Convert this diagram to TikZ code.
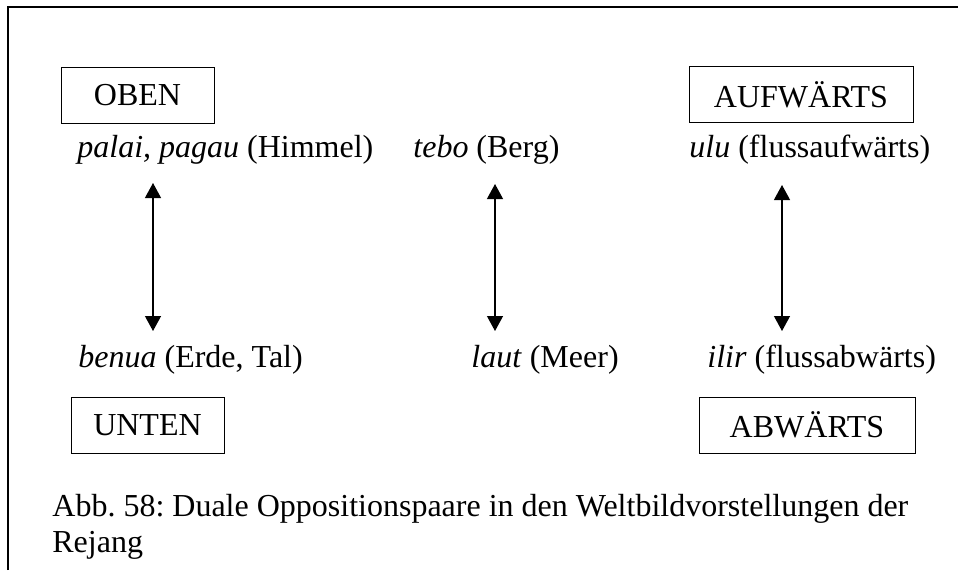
\documentclass[tikz,border=0pt]{standalone}
\usepackage{fontspec}
\setmainfont{Liberation Serif}
\usetikzlibrary{arrows.meta}

\tikzset{
  labelbox/.style={draw, line width=0.5pt, inner sep=0pt, minimum height=28pt},
  term/.style={anchor=base west, inner sep=0pt},
}

\begin{document}
\frenchspacing
\begin{tikzpicture}[x=0.5pt, y=-0.5pt, font=\fontsize{16}{18}\selectfont]
\useasboundingbox (0,0) rectangle (958,570);

% frame (top and left only)
\draw [line width=0.6pt] (8,570) -- (8,7) -- (958,7);

% direction boxes
\node [labelbox, minimum width=76.5pt] (oben) at (137.5,95.5) {OBEN};
\node [labelbox, minimum width=112pt] (aufw) at (801,94.5) {AUFWÄRTS};
\node [labelbox, minimum width=76.5pt] (unten) at (147.5,425) {UNTEN};
\node [labelbox, minimum width=108pt] (abw) at (807,425) {ABWÄRTS};

% upper terms
\node [term] (himmel) at (77,157) {\textit{palai, pagau} (Himmel)};
\node [term] (berg) at (413,157) {\textit{tebo} (Berg)};
\node [term] (ulu) at (689,157) {\textit{ulu} (flussaufwärts)};

% lower terms
\node [term] (erde) at (78,367) {\textit{benua} (Erde, Tal)};
\node [term] (meer) at (471,367) {\textit{laut} (Meer)};
\node [term] (ilir) at (707,367) {\textit{ilir} (flussabwärts)};

% arrow ends
\coordinate (a1) at (153,183);
\coordinate (b1) at (153,331);
\coordinate (a2) at (495,184);
\coordinate (b2) at (495,331);
\coordinate (a3) at (782,185);
\coordinate (b3) at (782,331);

\draw [>={Triangle[width=8pt,length=7.5pt]}, <->, line width=0.6pt] (a1) -- (b1);
\draw [>={Triangle[width=8pt,length=7.5pt]}, <->, line width=0.6pt] (a2) -- (b2);
\draw [>={Triangle[width=8pt,length=7.5pt]}, <->, line width=0.6pt] (a3) -- (b3);

% caption (base anchor sits on the last line)
\node [term, align=left] (caption) at (52,552) {Abb. 58: Duale Oppositionspaare in den Weltbildvorstellungen der\\Rejang};

\end{tikzpicture}
\end{document}
